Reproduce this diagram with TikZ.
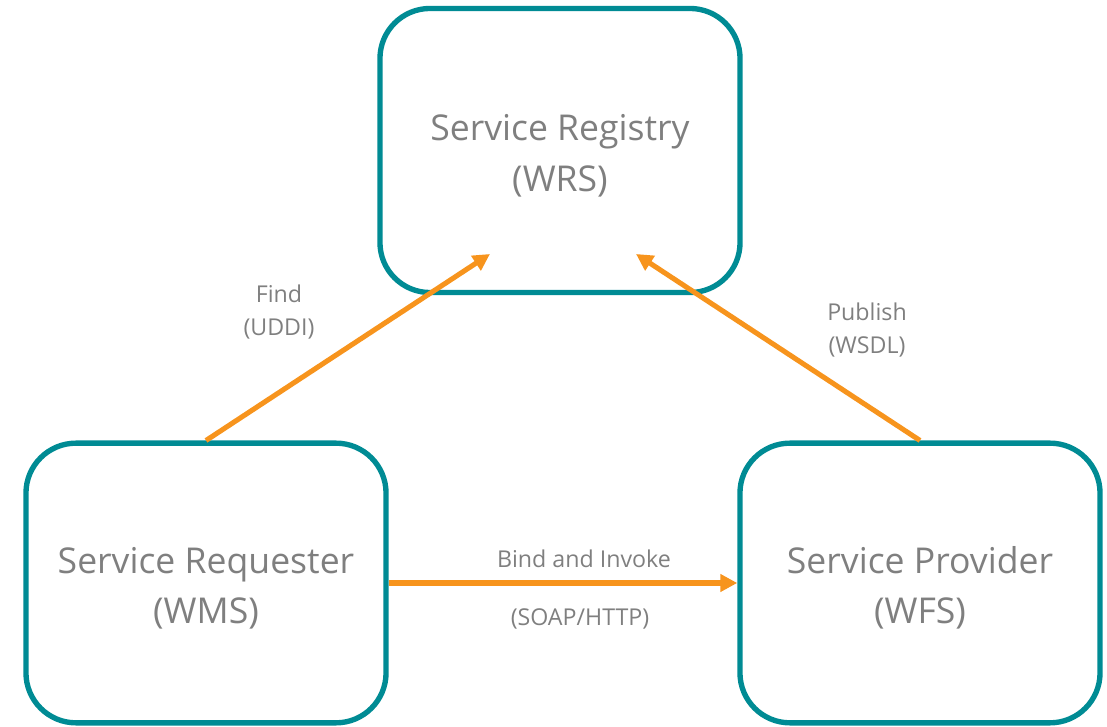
\documentclass[tikz,border=0pt]{standalone}
\usepackage{fontspec}
\setmainfont{Open Sans}
\usepackage{xcolor}
\usetikzlibrary{arrows.meta}
\usetikzlibrary{positioning}
\definecolor{srvteal}{RGB}{0,139,148}
\definecolor{srvorange}{RGB}{247,148,29}
\definecolor{srvgray}{RGB}{127,127,127}

\begin{document}
\begin{tikzpicture}[x=0.025cm, y=0.025cm,
    box/.style={draw=srvteal, line width=3.8pt, rounded corners=1.25cm,
      minimum width=9cm, text=srvgray, align=center,
      font=\fontsize{25.3}{36}\selectfont, text height=62pt},
    lbl/.style={text=srvgray, align=center, font=\fontsize{16.5}{22.8}\selectfont},
    flow/.style={draw=srvorange, line width=3.6pt},
    >={Triangle[length=12pt,width=12pt]}]
      \useasboundingbox (0,-727) rectangle (1107,0);
      \node[box, minimum height=7.1cm] (wrs) at (560,-150.5) {Service Registry\\(WRS)};
      \node[box, minimum height=6.99cm] (wms) at (206,-583) {Service Requester\\(WMS)};
      \node[box, minimum height=6.99cm] (wfs) at (920,-583) {Service Provider\\(WFS)};

      \coordinate (findtip) at (490,-254);
      \coordinate (pubtip) at (636,-254);
      \path[->] (wms.north) edge[flow] (findtip);
      \path[->] (wfs.north) edge[flow] (pubtip);
      \path[->] (wms.east) edge[flow] (wfs.west);

      \node[lbl] (find) at (279,-312) {Find\\(UDDI)};
      \node[lbl] (publish) at (867,-330) {Publish\\(WSDL)};
      \node[lbl] (bind) at (584,-559) {Bind and Invoke};
      \node[lbl] (soap) at (580,-619) {(SOAP/HTTP)};
    \end{tikzpicture}
\end{document}
